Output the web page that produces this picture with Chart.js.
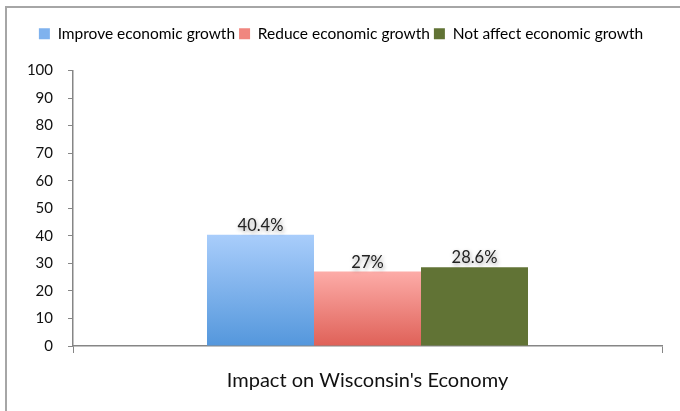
<!DOCTYPE html>
<html>
<head>
<meta charset="utf-8">
<script src="https://cdn.jsdelivr.net/npm/chart.js@4.4.0/dist/chart.umd.min.js"></script>
<style>
    html, body { margin: 0; padding: 0; background: #fff; }
    #wrap { width: 680px; height: 411px; position: relative; }
</style>
</head>
<body>
<div id="wrap"><canvas id="chart" width="680" height="411"></canvas></div>
<script>
const categories = ["Impact on Wisconsin's Economy"];
const series_names = ['Improve economic growth', 'Reduce economic growth', 'Not affect economic growth'];
const improve = [40.4];
const reduce = [27];
const not_affect = [28.6];
const value_labels = ['40.4%', '27%', '28.6%'];
const y_ticks = [0, 10, 20, 30, 40, 50, 60, 70, 80, 90, 100];

const FONT = 'Lato, "Open Sans", sans-serif';

// top / bottom colours of each bar's gradient, and the legend swatch
const fills = [
    ['#a9cdfb', '#5497dc'],
    ['#fdaca8', '#df6158'],
    ['#617335', '#617335']
];
const swatches = ['#7fb2ee', '#f0867f', '#617335'];

function bar_fill(index) {
    return (ctx) => {
        const chart = ctx.chart;
        const y = chart.scales.y;
        if (!chart.chartArea || !y) {
            return fills[index][0];
        }
        const top = y.getPixelForValue(ctx.raw || 0);
        const bottom = y.getPixelForValue(0);
        const grad = chart.ctx.createLinearGradient(0, top, 0, bottom);
        grad.addColorStop(0, fills[index][0]);
        grad.addColorStop(1, fills[index][1]);
        return grad;
    };
}

// grey frame along the left and top edge, plus legend spacing
const frame_plugin = {
    id: 'frame',
    beforeInit(chart) {
        const legend = chart.legend;
        if (legend) {
            // leave room under the legend before the plot starts
            const fit = legend.fit;
            legend.fit = function () {
                fit.call(this);
                this.height += 19;
            };
            // legend sits centred on the whole picture, not the padded box
            const draw = legend.draw;
            legend.draw = function () {
                const c = this.ctx;
                c.save();
                c.translate(10, 0);
                draw.call(this);
                c.restore();
            };
        }
    },
    beforeDraw(chart) {
        const c = chart.ctx;
        c.save();
        c.strokeStyle = '#a6a6a6';
        c.lineWidth = 2;
        c.beginPath();
        c.moveTo(6, 420);
        c.lineTo(6, 7);
        c.lineTo(690, 7);
        c.stroke();
        c.restore();
    }
};

const value_plugin = {
    id: 'values',
    afterDatasetsDraw(chart) {
        const c = chart.ctx;
        c.save();
        c.font = '16.5px ' + FONT;
        c.fillStyle = '#222';
        c.textAlign = 'center';
        c.textBaseline = 'bottom';
        c.shadowColor = 'rgba(0, 0, 0, 0.4)';
        c.shadowBlur = 4;
        c.shadowOffsetX = 1;
        c.shadowOffsetY = 2;
        chart.data.datasets.forEach((ds, i) => {
            const meta = chart.getDatasetMeta(i);
            meta.data.forEach((bar) => {
                c.fillText(value_labels[i], bar.x, bar.y - 1);
            });
        });
        c.restore();
    }
};

const datasets = [improve, reduce, not_affect].map((values, i) => ({
    label: series_names[i],
    data: values,
    backgroundColor: bar_fill(i),
    borderWidth: 0,
    categoryPercentage: 0.545,
    barPercentage: 1.0
}));

new Chart(document.getElementById('chart').getContext('2d'), {
    type: 'bar',
    data: {
        labels: categories,
        datasets: datasets
    },
    options: {
        responsive: false,
        animation: false,
        layout: {
            padding: { left: 0, right: 18, top: 22, bottom: 0 }
        },
        plugins: {
            legend: {
                position: 'top',
                labels: {
                    boxWidth: 11,
                    boxHeight: 11,
                    padding: 4,
                    color: '#222',
                    font: { family: FONT, size: 15.5 },
                    generateLabels(chart) {
                        return chart.data.datasets.map((ds, i) => ({
                            text: ds.label,
                            fillStyle: swatches[i],
                            strokeStyle: swatches[i],
                            lineWidth: 0,
                            datasetIndex: i
                        }));
                    }
                },
                onClick: null
            },
            tooltip: { enabled: false }
        },
        scales: {
            x: {
                offset: true,
                grid: {
                    offset: true,
                    drawOnChartArea: false,
                    tickLength: 7,
                    color: '#868686'
                },
                border: { color: '#868686', width: 1.5 },
                ticks: {
                    color: '#111',
                    padding: 16,
                    font: { family: FONT, size: 20 }
                },
                afterFit(scale) { scale.height = 65; }
            },
            y: {
                min: 0,
                max: 100,
                afterBuildTicks(scale) {
                    scale.ticks = y_ticks.map((v) => ({ value: v }));
                },
                grid: {
                    drawOnChartArea: false,
                    tickLength: 5,
                    color: '#868686'
                },
                border: { color: '#868686', width: 1.5 },
                ticks: {
                    color: '#111',
                    padding: 15,
                    font: { family: FONT, size: 15 }
                },
                afterFit(scale) { scale.width = 73; }
            }
        }
    },
    plugins: [frame_plugin, value_plugin]
});
</script>
</body>
</html>
